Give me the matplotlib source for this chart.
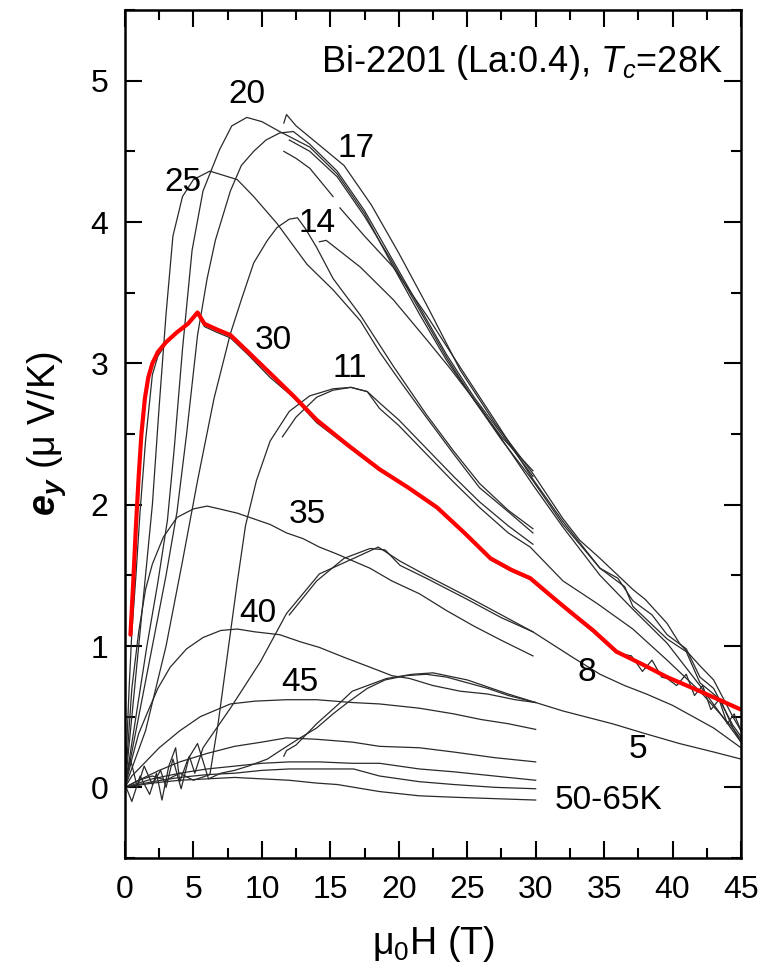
import matplotlib
matplotlib.use("Agg")
import matplotlib.pyplot as plt
from matplotlib.ticker import MultipleLocator

plt.rcParams['font.family'] = ['Liberation Sans', 'DejaVu Sans']
plt.rcParams['mathtext.fontset'] = 'custom'
plt.rcParams['mathtext.rm'] = 'Liberation Sans'
plt.rcParams['mathtext.it'] = 'Liberation Sans:italic'
plt.rcParams['mathtext.bf'] = 'Liberation Sans:italic:bold'

# ---------------- data (field in T, e_y in uV/K) ----------------
H_30 = [0, 0.15, 0.3, 0.5, 0.8, 1.1, 1.5, 2.0, 2.4, 3.0, 3.8, 4.6, 5.3, 5.8, 6.7, 7.7, 9.0, 10.6, 12.3,
        14.0, 16.3, 18.6, 20.7, 22.8, 24.8, 26.7, 28.2, 29.6, 31.3, 32.8, 34.2, 35.9, 37.0, 37.8, 38.5,
        39.2, 39.6, 40.3, 41.0, 41.6, 42.2, 42.8, 43.4, 44.0, 44.5, 45.0]
e_30 = [0, 0.35, 0.7, 1.1, 1.5, 1.95, 2.45, 2.92, 3.05, 3.14, 3.22, 3.28, 3.36, 3.26, 3.22, 3.18, 3.06, 2.9,
        2.76, 2.58, 2.41, 2.24, 2.12, 1.97, 1.8, 1.61, 1.53, 1.47, 1.33, 1.21, 1.1, 0.95, 0.93, 0.82, 0.9,
        0.78, 0.77, 0.72, 0.8, 0.65, 0.72, 0.55, 0.62, 0.45, 0.52, 0.4]

H_30fit = [0.4, 0.6, 0.8, 1.0, 1.2, 1.45, 1.7, 2.0, 2.4, 3.0, 3.8, 4.6, 5.3, 5.8, 6.7, 7.7, 9.0, 10.6,
           12.3, 14.0, 16.3, 18.6, 20.7, 22.8, 24.8, 26.7, 28.2, 29.6, 31.3, 32.8, 34.2, 35.9, 37.8,
           39.6, 42.0, 45.0]
e_30fit = [1.08, 1.45, 1.85, 2.2, 2.5, 2.75, 2.9, 3.0, 3.08, 3.15, 3.22, 3.28, 3.36, 3.28, 3.24, 3.2,
           3.08, 2.93, 2.77, 2.6, 2.42, 2.25, 2.12, 1.98, 1.8, 1.62, 1.54, 1.48, 1.34, 1.22, 1.11, 0.96,
           0.87, 0.78, 0.68, 0.55]

H_25 = [0, 0.5, 1.0, 1.5, 2.0, 2.5, 3.0, 3.5, 4.2, 5.0, 6.2, 7.2, 8.2, 9.4, 11.1, 13.3, 15.2, 17.2, 18.6,
        19.9, 22.0, 24.0, 25.9, 28.0, 29.8]
e_25 = [0, 0.5, 1.0, 1.5, 2.0, 2.7, 3.35, 3.9, 4.18, 4.3, 4.36, 4.33, 4.3, 4.18, 3.99, 3.7, 3.52, 3.3, 3.08,
        2.9, 2.62, 2.36, 2.12, 1.95, 1.8]

H_20 = [0, 0.8, 1.6, 2.4, 3.1, 3.6, 4.2, 4.9, 5.7, 6.9, 7.8, 8.9, 10.0, 11.3, 13.5, 15.5, 17.5, 19.5, 21.5,
        23.5, 25.5, 27.5, 29.8]
e_20 = [0, 0.5, 1.0, 1.45, 1.89, 2.4, 3.1, 3.8, 4.22, 4.51, 4.68, 4.74, 4.71, 4.64, 4.53, 4.34, 4.06, 3.7,
        3.35, 3.02, 2.74, 2.48, 2.24]

H_17 = [0, 1.0, 2.0, 3.0, 3.8, 4.5, 5.3, 6.0, 6.6, 7.7, 8.5, 9.4, 10.3, 11.3, 12.3, 13.5, 15.5, 17.5, 19.5,
        21.5, 23.5, 25.5, 27.5, 29.8]
e_17 = [0, 0.5, 1.0, 1.5, 1.95, 2.5, 3.2, 3.6, 3.87, 4.22, 4.4, 4.5, 4.58, 4.63, 4.64, 4.55, 4.36, 4.08,
        3.74, 3.4, 3.06, 2.76, 2.5, 2.2]

H_14 = [0, 1.5, 3.0, 4.2, 5.3, 6.5, 7.7, 8.5, 9.4, 10.4, 11.1, 12.0, 12.6, 13.2, 14.0, 15.2, 17.2, 19.6,
        22.0, 24.0, 25.9, 28.0, 29.8]
e_14 = [0, 0.4, 1.0, 1.6, 2.17, 2.75, 3.21, 3.45, 3.71, 3.87, 3.96, 4.02, 4.03, 3.95, 3.82, 3.6, 3.34,
        2.98, 2.64, 2.38, 2.15, 1.96, 1.83]

H_11 = [0, 1, 2, 3, 4, 5, 6.2, 6.8, 7.5, 8.2, 8.8, 9.6, 10.6, 12.0, 13.5, 15.2, 16.5, 17.7, 18.6, 20, 22,
        24, 25.9, 28, 29.8]
e_11 = [0, 0.05, 0.08, 0.05, 0.1, 0.05, 0.09, 0.45, 0.95, 1.45, 1.85, 2.17, 2.45, 2.66, 2.77, 2.82, 2.83,
        2.8, 2.72, 2.6, 2.4, 2.2, 2.02, 1.85, 1.72]

H_8 = [0, 0.4, 0.9, 1.4, 2.0, 2.6, 3.0, 3.5, 4.1, 4.7, 5.1, 5.7, 7.7, 9.9, 11.8, 14.2, 16.7, 18.5, 20.1,
       22.0, 25.0, 27.5, 29.8]
e_8 = [0.05, 0.2, 0.0, 0.15, 0.02, 0.12, 0.0, 0.2, -0.01, 0.22, 0.1, 0.28, 0.56, 0.89, 1.23, 1.51, 1.62,
       1.7, 1.6, 1.5, 1.35, 1.22, 1.1]

H_5 = [0, 0.5, 1.1, 1.8, 2.3, 2.7, 3.2, 3.7, 4.0, 4.6, 5.3, 6.1, 7, 8, 9, 10.4, 11.5, 12.8, 14.0, 15.2,
       16.4, 17.7, 19.0, 20.5, 22.0, 23.5, 25.0, 26.5, 28.0, 30.0]
e_5 = [0.02, -0.1, 0.08, -0.05, 0.1, -0.09, 0.15, 0.28, 0.04, 0.2, 0.31, 0.06, 0.1, 0.12, 0.15, 0.2,
       0.27, 0.35, 0.42, 0.52, 0.61, 0.7, 0.76, 0.79, 0.8, 0.78, 0.74, 0.7, 0.65, 0.6]

H_35 = [0, 0.5, 1.0, 1.5, 2.0, 2.8, 3.8, 5.0, 6.0, 6.9, 8.2, 9.4, 10.6, 11.8, 13, 14.2, 15.5, 16.7, 17.9,
        19.5, 21.5, 23.5, 25.5, 27.5, 29.8]
e_35 = [0, 0.7, 1.1, 1.4, 1.58, 1.77, 1.91, 1.97, 1.99, 1.97, 1.94, 1.9, 1.86, 1.8, 1.76, 1.7, 1.65, 1.6,
        1.55, 1.46, 1.37, 1.25, 1.14, 1.04, 0.93]

H_40 = [0, 0.5, 1.0, 1.6, 2.4, 3.3, 4.5, 5.7, 7, 8.2, 9.5, 11.3, 12.8, 14.2, 16, 17.9, 19.5, 20.8, 22.5,
        24.5, 26.5, 28.5, 30]
e_40 = [0, 0.2, 0.38, 0.52, 0.7, 0.85, 0.98, 1.06, 1.11, 1.12, 1.1, 1.08, 1.03, 0.99, 0.92, 0.85, 0.79,
        0.77, 0.72, 0.68, 0.66, 0.62, 0.6]

H_45 = [0, 0.5, 1.2, 2.5, 4, 5.5, 7.7, 9.5, 11.8, 14, 16.6, 18.6, 21.5, 24, 26, 28, 30]
e_45 = [0, 0.08, 0.15, 0.28, 0.4, 0.5, 0.59, 0.61, 0.62, 0.62, 0.6, 0.59, 0.56, 0.52, 0.48, 0.45, 0.41]

H_50 = [0, 1, 2.5, 4, 6, 8, 10, 11.8, 14, 16.6, 18.6, 21.5, 24, 27, 30]
e_50 = [0, 0.05, 0.12, 0.18, 0.24, 0.29, 0.32, 0.35, 0.34, 0.32, 0.29, 0.28, 0.25, 0.21, 0.18]
H_55 = [0, 2, 4, 6, 8, 10, 12, 14.2, 16.6, 18.6, 21.5, 24, 27, 30]
e_55 = [0, 0.06, 0.1, 0.13, 0.15, 0.17, 0.18, 0.18, 0.17, 0.17, 0.13, 0.11, 0.08, 0.05]
H_60 = [0, 2, 4, 6, 8, 10, 12, 14, 16.7, 18.6, 21.5, 24, 27, 30]
e_60 = [0, 0.04, 0.07, 0.09, 0.1, 0.12, 0.13, 0.13, 0.13, 0.08, 0.04, 0.02, 0.0, -0.01]
H_65 = [0, 2, 4, 6, 8, 10, 12, 14, 15.5, 18.6, 21.5, 24, 27, 30]
e_65 = [0, 0.03, 0.05, 0.06, 0.07, 0.06, 0.05, 0.03, 0.02, -0.03, -0.06, -0.07, -0.08, -0.09]

# pulsed-field traces
H_p17a = [11.6, 11.8, 12.5, 14.0, 16.0, 18.0, 20.0, 22.0, 24.5, 27.0, 29.8, 32.0, 33.2, 34.7, 37.1, 38.0,
          39.6, 40.5, 42.0, 43.0, 44.4, 45.0]
e_p17a = [4.7, 4.76, 4.68, 4.56, 4.4, 4.12, 3.78, 3.42, 2.95, 2.58, 2.22, 1.9, 1.75, 1.62, 1.4, 1.33,
          1.16, 1.02, 0.86, 0.76, 0.5, 0.4]
H_p17b = [12.0, 13.5, 15.5, 17.5, 19.5, 21.5, 23.5, 25.5, 27.5, 29.8, 32.0, 34.7, 36.0, 37.1, 38.5, 39.6,
          41.0, 42.0, 43.0, 44.4, 45.0]
e_p17b = [4.58, 4.5, 4.32, 4.04, 3.72, 3.38, 3.04, 2.74, 2.46, 2.17, 1.86, 1.55, 1.48, 1.32, 1.22, 1.08,
          0.98, 0.78, 0.7, 0.44, 0.36]
H_p14a = [11.6, 12.5, 13.5, 15.2]
e_p14a = [4.5, 4.45, 4.38, 4.18]
H_p14b = [15.7, 17.5, 19.6, 22.1, 24.5, 27.0, 29.8, 32.0, 34.7, 36.5, 37.1, 39.6, 41.0, 42.0, 43.5,
          44.4, 45.0]
e_p14b = [4.1, 3.9, 3.68, 3.33, 2.97, 2.6, 2.18, 1.88, 1.55, 1.42, 1.28, 1.05, 0.96, 0.74, 0.62,
          0.42, 0.34]
H_p14c = [14.2, 14.7, 17.2, 19.6, 22.1, 23.7, 26.0, 29.8, 32.0, 34.7, 37.1, 39.6, 42.0, 44.4, 45.0]
e_p14c = [3.86, 3.87, 3.68, 3.45, 3.16, 2.97, 2.68, 2.14, 1.84, 1.5, 1.26, 1.02, 0.72, 0.4, 0.32]
H_p11 = [11.5, 12.5, 14.0, 15.2, 16.5, 17.7, 18.6, 20, 22, 24, 25.9, 28, 29.6, 32, 34.5, 37.1, 39.6,
         42, 44.4, 45]
e_p11 = [2.48, 2.62, 2.76, 2.81, 2.83, 2.8, 2.68, 2.56, 2.36, 2.16, 1.98, 1.8, 1.7, 1.46, 1.3, 1.12,
         0.9, 0.68, 0.42, 0.32]
H_p8 = [12.0, 14.0, 16.0, 17.9, 19.0, 20.1, 22.0, 25.0, 27.5, 29.8, 32.7, 34.7, 36.5, 38.1, 40.0, 41.5,
        43.0, 44.0, 45.0]
e_p8 = [1.22, 1.46, 1.62, 1.69, 1.68, 1.57, 1.48, 1.33, 1.2, 1.1, 0.92, 0.8, 0.72, 0.66, 0.58, 0.5,
        0.42, 0.35, 0.28]
H_p5 = [11.6, 11.8, 12.5, 14.0, 15.5, 16.6, 19.1, 21.0, 22.5, 25.0, 28.0, 30.0, 32.0, 35.6, 38.0, 40.5,
        43.0, 45.0]
e_p5 = [0.22, 0.26, 0.3, 0.45, 0.58, 0.68, 0.77, 0.8, 0.81, 0.76, 0.66, 0.6, 0.54, 0.45, 0.38, 0.31,
        0.25, 0.2]

curves = [(H_30, e_30), (H_25, e_25), (H_20, e_20), (H_17, e_17), (H_14, e_14), (H_11, e_11),
          (H_8, e_8), (H_5, e_5), (H_35, e_35), (H_40, e_40), (H_45, e_45), (H_50, e_50),
          (H_55, e_55), (H_60, e_60), (H_65, e_65), (H_p17a, e_p17a), (H_p17b, e_p17b),
          (H_p14a, e_p14a), (H_p14b, e_p14b), (H_p14c, e_p14c), (H_p11, e_p11), (H_p8, e_p8),
          (H_p5, e_p5)]

labels = ["20", "25", "17", "14", "30", "11", "35", "40", "45", "8", "5", "50-65K"]
label_H = [8.9, 4.2, 16.9, 14.0, 10.8, 16.4, 13.3, 9.7, 12.8, 33.7, 37.5, 35.3]
label_e = [4.9, 4.28, 4.52, 3.99, 3.16, 2.96, 1.93, 1.23, 0.74, 0.81, 0.27, -0.09]

# ---------------- figure ----------------
fig = plt.figure(figsize=(7.61, 9.77), dpi=100)
ax = fig.add_axes([125 / 761, 1 - 858 / 977, 616 / 761, 848 / 977])

for H, e in curves:
    ax.plot(H, e, color='#2a2a2a', lw=0.9, solid_joinstyle='round')
ax.plot(H_30fit, e_30fit, color='#ff0000', lw=3.0, solid_capstyle='round', solid_joinstyle='round')

for t, x, y in zip(labels, label_H, label_e):
    ax.text(x, y, t, fontsize=24, ha='center', va='center')

ax.text(43.7, 5.13, r'Bi-2201 (La:0.4), $T_c$=28K', fontsize=26, ha='right', va='center')

ax.set_xlim(0, 45)
ax.set_ylim(-0.5, 5.5)
ax.xaxis.set_major_locator(MultipleLocator(5))
ax.xaxis.set_minor_locator(MultipleLocator(2.5))
ax.yaxis.set_major_locator(MultipleLocator(1))
ax.yaxis.set_minor_locator(MultipleLocator(0.5))
ax.tick_params(which='both', direction='in', top=True, right=True, width=1.5, labelsize=23)
ax.tick_params(which='major', length=12, pad=12)
ax.tick_params(which='minor', length=7)
for s in ax.spines.values():
    s.set_linewidth(1.8)

ax.set_xlabel('μ$_0$H (T)', fontsize=27, labelpad=14)
ax.set_ylabel(r'$\mathbf{e_y}$ (μ V/K)', fontsize=27, labelpad=16)

fig.savefig('out.png', dpi=100)
